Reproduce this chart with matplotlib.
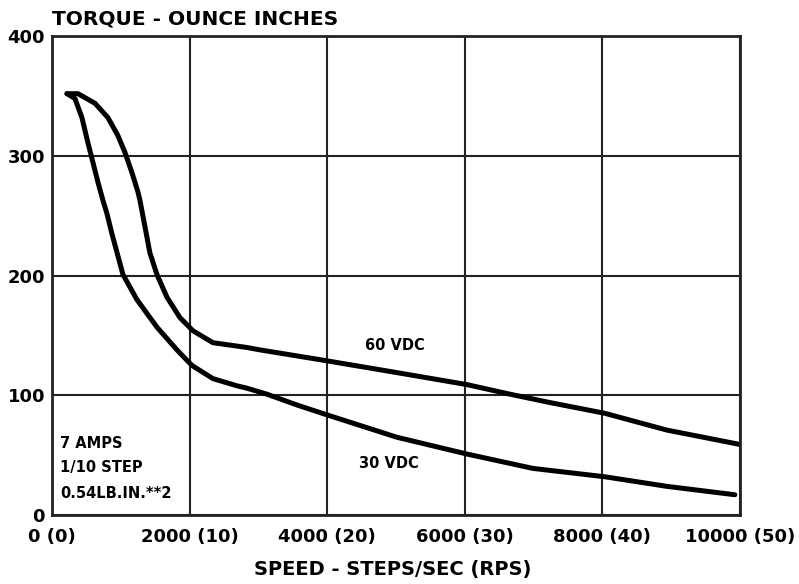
import matplotlib.pyplot as plt

plt.rcParams['font.family'] = ['DejaVu Sans']
plt.rcParams['font.weight'] = 'bold'

# 60 VDC curve (speed steps/sec, torque oz-in)
speed_60 = [218, 378, 625, 814, 959, 1061, 1163, 1250, 1279, 1352, 1424, 1526, 1672,
            1860, 2049, 2340, 2587, 2834, 3023, 3983, 5015, 6032, 6657, 7238,
            8038, 8939, 10000]
torque_60 = [352, 352, 344, 332, 317, 303, 286, 270, 263, 241, 219, 201, 182,
             165, 154, 144, 142, 140, 138, 129, 119, 109, 101, 94,
             85, 71, 59]

# 30 VDC curve
speed_30 = [218, 334, 436, 523, 581, 669, 741, 799, 872, 1032, 1235, 1526,
            1817, 2035, 2340, 2689, 2834, 3125, 3560, 3983, 5015, 6032, 6991,
            8038, 8939, 9927]
torque_30 = [352, 348, 332, 311, 298, 278, 263, 252, 235, 201, 180, 157,
             138, 125, 114, 108, 106, 101, 92, 84, 65, 51, 39,
             32, 24, 17]

xticks = [0, 2000, 4000, 6000, 8000, 10000]
xlabels = ['0 (0)', '2000 (10)', '4000 (20)', '6000 (30)', '8000 (40)', '10000 (50)']
yticks = [0, 100, 200, 300, 400]

fig = plt.figure(figsize=(7.99, 5.84), dpi=100)
ax = fig.add_axes([0.065, 0.118, 0.861, 0.820])

ax.plot(speed_60, torque_60, color='black', lw=3.6, solid_capstyle='round', solid_joinstyle='round')
ax.plot(speed_30, torque_30, color='black', lw=3.6, solid_capstyle='round', solid_joinstyle='round')

ax.set_xlim(0, 10000)
ax.set_ylim(0, 400)
ax.set_xticks(xticks)
ax.set_xticklabels(xlabels, fontsize=13, fontweight='bold')
ax.set_yticks(yticks)
ax.set_yticklabels([str(v) for v in yticks], fontsize=13, fontweight='bold')
ax.tick_params(length=0)
ax.tick_params(axis='x', pad=9)
ax.tick_params(axis='y', pad=5)
ax.grid(True, color='#222222', lw=1.5)
for s in ax.spines.values():
    s.set_linewidth(2)
    s.set_color('#222222')

ax.text(4985, 142, '60 VDC', fontsize=10.5, fontweight='bold', ha='center', va='center')
ax.text(4900, 43, '30 VDC', fontsize=10.5, fontweight='bold', ha='center', va='center')
ax.text(116, 60, '7 AMPS', fontsize=10.5, fontweight='bold', va='center')
ax.text(116, 40, '1/10 STEP', fontsize=10.5, fontweight='bold', va='center')
ax.text(116, 18, '0.54LB.IN.**2', fontsize=10.5, fontweight='bold', va='center')

fig.text(0.065, 0.967, 'TORQUE - OUNCE INCHES', fontsize=14.5, fontweight='bold', va='center')
fig.text(0.492, 0.024, 'SPEED - STEPS/SEC (RPS)', fontsize=14, fontweight='bold', ha='center', va='center')

fig.savefig('out.png', dpi=100)
